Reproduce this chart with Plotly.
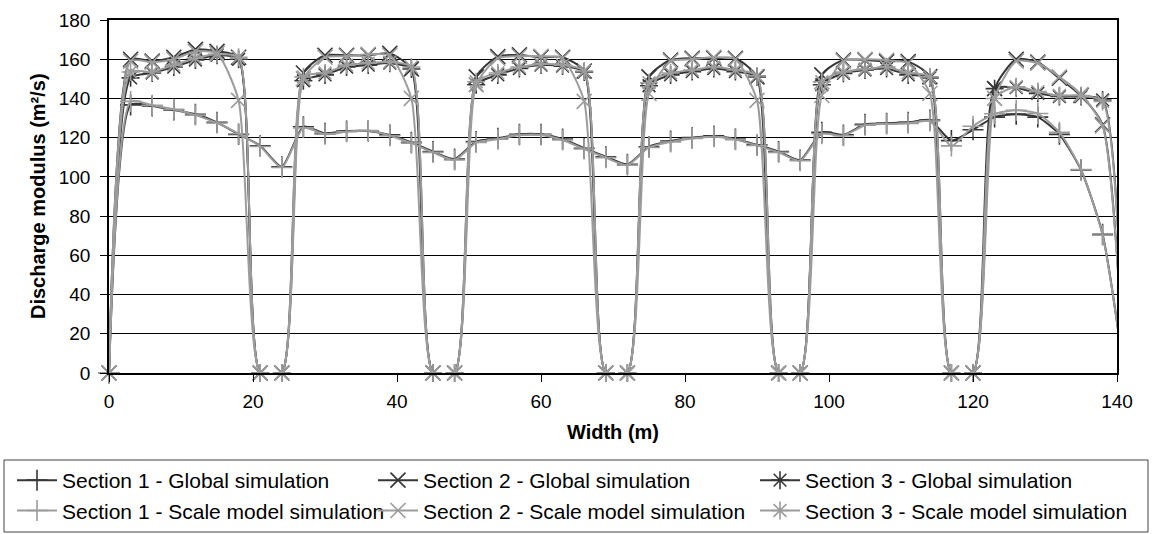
import plotly.graph_objects as go

# ---------------- data ----------------
width_m = [0, 3, 6, 9, 12, 15, 18, 21, 24, 27, 30, 33, 36, 39, 42, 45, 48, 51, 54, 57,
           60, 63, 66, 69, 72, 75, 78, 81, 84, 87, 90, 93, 96, 99, 102, 105, 108, 111,
           114, 117, 120, 123, 126, 129, 132, 135, 138, 141]

sec1_global = [0, 136.7, 136.2, 134.1, 131.9, 127.8, 121.7, 115.9, 105.2, 125.6, 122.2,
               123.4, 123.4, 121.4, 117.6, 112.9, 109.1, 118.0, 119.7, 121.7, 121.7, 119.3,
               114.6, 110.3, 106.4, 115.4, 118.3, 120.0, 120.9, 119.3, 116.3, 112.9, 108.6,
               122.7, 121.4, 126.8, 127.3, 127.8, 129.0, 118.5, 124.0, 130.5, 132.0, 130.5,
               121.7, 103.5, 70.7, 0]
sec1_scale = [0, 138.5, 136.5, 134.5, 131.5, 127.5, 122.0, 115.5, 104.8, 125.0, 121.8,
              123.0, 123.6, 121.0, 117.2, 112.5, 108.6, 117.5, 119.2, 121.3, 121.4, 118.8,
              114.2, 109.8, 106.0, 115.0, 117.8, 119.6, 120.5, 119.0, 116.0, 112.5, 108.2,
              122.0, 121.0, 126.3, 127.0, 127.3, 128.5, 115.8, 125.8, 132.2, 134.0, 132.3,
              122.8, 103.8, 70.3, 0]
sec2_global = [0, 160, 159, 161, 165, 164, 161, 0, 0, 153, 162, 162, 162, 163, 155, 0, 0,
               151, 161.3, 162.2, 161, 161, 154, 0, 0, 151, 159.6, 160.5, 160.5, 160.5, 151,
               0, 0, 152, 159.6, 159.6, 158.8, 158.8, 151.1, 0, 0, 145, 160, 158.5, 150.3,
               141.5, 126.5, 0]
sec2_scale = [0, 159, 158.5, 160, 164, 163, 139, 0, 0, 150, 161, 161.5, 162.5, 162, 140, 0, 0,
              147, 160.5, 161.5, 161.5, 160.5, 138.5, 0, 0, 142.5, 159, 160, 161, 160, 139,
              0, 0, 141.5, 159, 160, 159.5, 158, 142.5, 0, 0, 140, 159, 158, 151, 142, 126, 0]
sec3_global = [0, 150.5, 153, 156, 159.6, 162, 160, 0, 0, 149, 152, 156, 157, 158, 155, 0, 0,
               147, 152, 155.3, 157, 156.5, 153.5, 0, 0, 146.5, 152, 153.7, 155.3, 153.7, 151,
               0, 0, 147, 152.8, 154.5, 155.3, 152, 150.5, 0, 0, 145, 145.5, 142.6, 141, 141,
               139.2, 0]
sec3_scale = [0, 153.5, 153.5, 157, 160.5, 162.5, 161, 0, 0, 151, 153, 157, 158, 158.5, 156,
              0, 0, 148.5, 153, 156, 157.5, 157, 154, 0, 0, 148, 153, 154.5, 156, 154.5, 151.5,
              0, 0, 148.5, 153.5, 155, 156, 153, 151, 0, 0, 140, 146, 143.5, 141.5, 141.5,
              138.5, 0]

x_ticks = [0, 20, 40, 60, 80, 100, 120, 140]
y_ticks = [0, 20, 40, 60, 80, 100, 120, 140, 160, 180]

DARK = '#363636'
LIGHT = '#9c9c9c'
FONT = 'Liberation Sans, Arial, sans-serif'

fig = go.Figure()


def add(name, y, color, symbol, legend):
    fig.add_trace(go.Scatter(
        x=width_m, y=y, name=name, mode='lines+markers', legend=legend,
        cliponaxis=False,
        line=dict(color=color, width=2, shape='spline', smoothing=0.6),
        marker=dict(symbol=symbol, size=15, color=color,
                    line=dict(color=color, width=1.6)),
    ))


add('Section 1 - Global simulation', sec1_global, DARK, 'cross-thin-open', 'legend')
add('Section 2 - Global simulation', sec2_global, DARK, 'x-thin-open', 'legend2')
add('Section 3 - Global simulation', sec3_global, DARK, 'asterisk-open', 'legend3')
add('Section 1 - Scale model simulation', sec1_scale, LIGHT, 'cross-thin-open', 'legend')
add('Section 2 - Scale model simulation', sec2_scale, LIGHT, 'x-thin-open', 'legend2')
add('Section 3 - Scale model simulation', sec3_scale, LIGHT, 'asterisk-open', 'legend3')

L, R, T, B = 109, 36, 20, 161
W, H = 1153, 534
pw, ph = W - L - R, H - T - B


def px(xp):
    return (xp - L) / pw


def py(yp):
    return (H - B - yp) / ph


leg_common = dict(xanchor='left', yanchor='top', bgcolor='rgba(0,0,0,0)',
                  xref='container', yref='container',
                  font=dict(size=21, family=FONT, color='black'), itemwidth=40,
                  tracegroupgap=0, orientation='v')

fig.update_layout(
    width=W, height=H, autosize=False,
    margin=dict(l=L, r=R, t=T, b=B, autoexpand=False),
    paper_bgcolor='white', plot_bgcolor='white',
    font=dict(family=FONT, color='black', size=19),
    legend=dict(x=12 / W, y=1 - 460 / H, **leg_common),
    legend2=dict(x=373 / W, y=1 - 460 / H, **leg_common),
    legend3=dict(x=755 / W, y=1 - 460 / H, **leg_common),
    xaxis=dict(range=[0, 140], tickvals=x_ticks, ticks='outside', ticklen=7,
               tickcolor='black', showline=True, linecolor='black', linewidth=1.5,
               mirror=True, showgrid=False, zeroline=False, automargin=True,
               tickfont=dict(size=19), ticklabelstandoff=3,
               title=dict(text='Width (m)', font=dict(size=20, weight='bold'), standoff=14)),
    yaxis=dict(range=[0, 180], tickvals=y_ticks, ticks='outside', ticklen=7,
               tickcolor='black', showline=True, linecolor='black', linewidth=1.5,
               mirror=True, showgrid=True, gridcolor='black', gridwidth=1,
               zeroline=False, automargin=True, tickfont=dict(size=19),
               ticklabelstandoff=6),
    annotations=[dict(text='Discharge modulus (m²/s)', textangle=-90, showarrow=False,
                      xref='paper', yref='paper', x=px(38), y=py(196),
                      xanchor='center', yanchor='middle',
                      font=dict(size=20, weight='bold', family=FONT, color='black'))],
    shapes=[dict(type='rect', xref='paper', yref='paper',
                 x0=px(4), x1=px(1148), y0=py(532), y1=py(460),
                 line=dict(color='#404040', width=1), fillcolor='rgba(0,0,0,0)')],
)

fig.write_html('out.html', post_script="document.body.style.margin='0';",
               config={'displayModeBar': False})
